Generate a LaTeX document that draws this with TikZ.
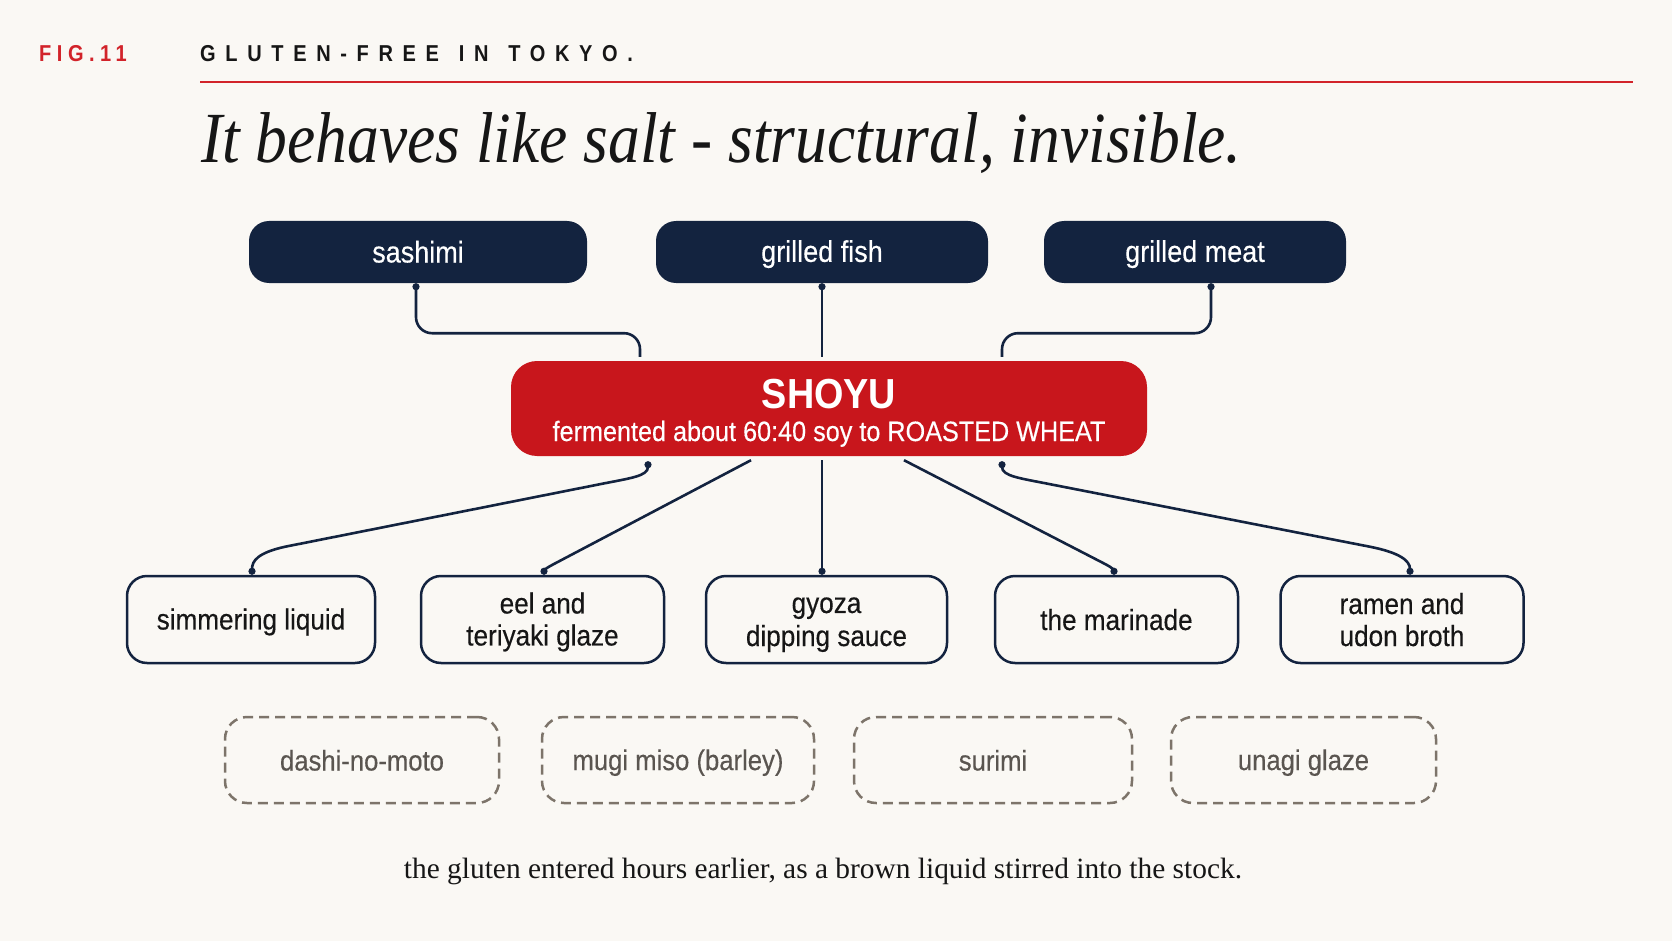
\documentclass[tikz,border=0pt]{standalone}
\usepackage{fontspec}
\setmainfont{Liberation Serif}
\newfontfamily\nodef[FakeStretch=0.9,FakeBold=0.35]{Liberation Sans}
\newfontfamily\shoyuf[FakeStretch=0.9]{Liberation Sans}
\newfontfamily\headf[FakeStretch=0.87,LetterSpace=42,WordSpace=1.3]{Liberation Sans}
\newfontfamily\figf[FakeStretch=0.87,LetterSpace=24]{Liberation Sans}
\newfontfamily\titlef[FakeStretch=0.882]{Liberation Serif}
\usetikzlibrary{arrows.meta}
\definecolor{bg}{HTML}{FAF8F4}
\definecolor{navy}{HTML}{13233F}
\definecolor{shoyured}{HTML}{C8161C}
\definecolor{linered}{HTML}{D2232A}
\definecolor{dashgray}{HTML}{7D746A}
\definecolor{txtgray}{HTML}{5A5550}
\definecolor{ink}{HTML}{161616}
\newcommand\ls{\rule[-5pt]{0pt}{31pt}}
\begin{document}
\begin{tikzpicture}[x=1pt,y=-1pt,
  topbox/.style={fill=navy, rounded corners=20pt, text=white, inner sep=0pt,
    font=\nodef\fontsize{30}{33}\selectfont, minimum height=62pt},
  redbox/.style={fill=shoyured, rounded corners=26pt, inner sep=0pt,
    minimum width=636pt, minimum height=95pt},
  usebox/.style={draw=navy, line width=2.5pt, fill=bg, rounded corners=20pt, text=ink,
    inner sep=0pt, align=center, font=\nodef\fontsize{29}{32}\selectfont,
    minimum height=87pt},
  ghostbox/.style={draw=dashgray, line width=2.5pt, dash pattern=on 10pt off 6pt,
    rounded corners=22pt, text=txtgray, inner sep=0pt,
    font=\nodef\fontsize{28.5}{32}\selectfont, minimum height=86pt},
  link/.style={draw=navy, line width=2.6pt},
  dot/.tip={Circle[length=7pt]}
]
\fill[bg] (0,0) rectangle (1672,941);
\useasboundingbox (0,0) rectangle (1672,941);

% header
\node[anchor=base west, inner sep=0pt, text=linered, font=\figf\bfseries\fontsize{23}{23}\selectfont] (fig) at (39,62) {FIG.11};
\node[anchor=base west, inner sep=0pt, text=ink, font=\headf\bfseries\fontsize{23}{23}\selectfont] (head) at (200,62) {GLUTEN-FREE IN TOKYO.};
\coordinate (ruleL) at (200,82);
\coordinate (ruleR) at (1633,82);
\draw[linered, line width=2pt] (ruleL) -- (ruleR);

% title
\node[anchor=base west, inner sep=0pt, text=ink, font=\titlef\itshape\fontsize{72}{80}\selectfont] (title) at (201,163) {It behaves like salt - structural, invisible.};

% top nodes
\node[topbox, minimum width=338pt] (sashimi) at (418,252) {\ls sashimi};
\node[topbox, minimum width=332pt] (fish) at (822,252) {\ls grilled fish};
\node[topbox, minimum width=302pt] (meat) at (1195,252) {\ls grilled meat};

% shoyu
\node[redbox] (shoyu) at (829,408.5) {};
\node[anchor=base, inner sep=0pt, text=white, font=\shoyuf\bfseries\fontsize{42}{46}\selectfont] (shoyutitle) at (829,408) {SHOYU};
\node[anchor=base, inner sep=0pt, text=white, font=\nodef\fontsize{28}{30}\selectfont] (shoyusub) at (829,441) {fermented about 60:40 soy to ROASTED WHEAT};

% bottom nodes
\node[usebox, minimum width=248pt] (simmer) at (251,619.5) {\ls simmering liquid};
\node[usebox, minimum width=243pt] (eel) at (542.5,619.5) {\ls eel and\\\ls teriyaki glaze};
\node[usebox, minimum width=241pt] (gyoza) at (826.5,619.5) {\ls gyoza\\\ls dipping sauce};
\node[usebox, minimum width=243pt] (marinade) at (1116.5,619.5) {\ls the marinade};
\node[usebox, minimum width=243pt] (ramen) at (1402,619.5) {\ls ramen and\\\ls udon broth};

% ghost nodes
\node[ghostbox, minimum width=274pt] (dashi) at (362,760) {\ls dashi-no-moto};
\node[ghostbox, minimum width=272pt] (mugi) at (678,760) {\ls mugi miso (barley)};
\node[ghostbox, minimum width=278pt] (surimi) at (993,760) {\ls surimi};
\node[ghostbox, minimum width=265pt] (unagi) at (1303.5,760) {\ls unagi glaze};

% footer
\node[anchor=base, inner sep=0pt, text=ink, font=\fontsize{29.4}{32}\selectfont] (foot) at (823,878) {the gluten entered hours earlier, as a brown liquid stirred into the stock.};

% top connectors
\draw[link, rounded corners=16pt, dot-] ([xshift=-2pt]sashimi.south) -- ++(0,50) -| ([xshift=-189pt,yshift=4pt]shoyu.north);
\draw[link, dot-] (fish.south) -- ([xshift=-7pt,yshift=4pt]shoyu.north);
\draw[link, rounded corners=16pt, dot-] ([xshift=16pt]meat.south) -- ++(0,50) -| ([xshift=173pt,yshift=4pt]shoyu.north);

% bottom connectors
\draw[link, dot-dot] ([xshift=-181pt,yshift=-5pt]shoyu.south)
  .. controls +(0,15) and +(30,-6) .. ++(-48,23)
  -- ([xshift=34pt,yshift=28pt]simmer.north)
  .. controls +(-27,6) and +(0,-14) .. ([xshift=1pt]simmer.north);
\draw[link, -dot] ([xshift=-78pt,yshift=-4pt]shoyu.south)
  -- ([xshift=10pt,yshift=10pt]eel.north)
  .. controls +(-6,3) and +(0,-4) .. ([xshift=1.5pt]eel.north);
\draw[link, -dot] ([xshift=-7pt,yshift=-4pt]shoyu.south) -- ([xshift=-4.5pt]gyoza.north);
\draw[link, -dot] ([xshift=75pt,yshift=-4pt]shoyu.south)
  -- ([xshift=-10pt,yshift=10pt]marinade.north)
  .. controls +(6,3) and +(0,-4) .. ([xshift=-2.5pt]marinade.north);
\draw[link, dot-dot] ([xshift=173pt,yshift=-5pt]shoyu.south)
  .. controls +(0,15) and +(-30,-6) .. ++(48,23)
  -- ([xshift=-32pt,yshift=28pt]ramen.north)
  .. controls +(30,6) and +(0,-14) .. ([xshift=8pt]ramen.north);
\end{tikzpicture}
\end{document}
